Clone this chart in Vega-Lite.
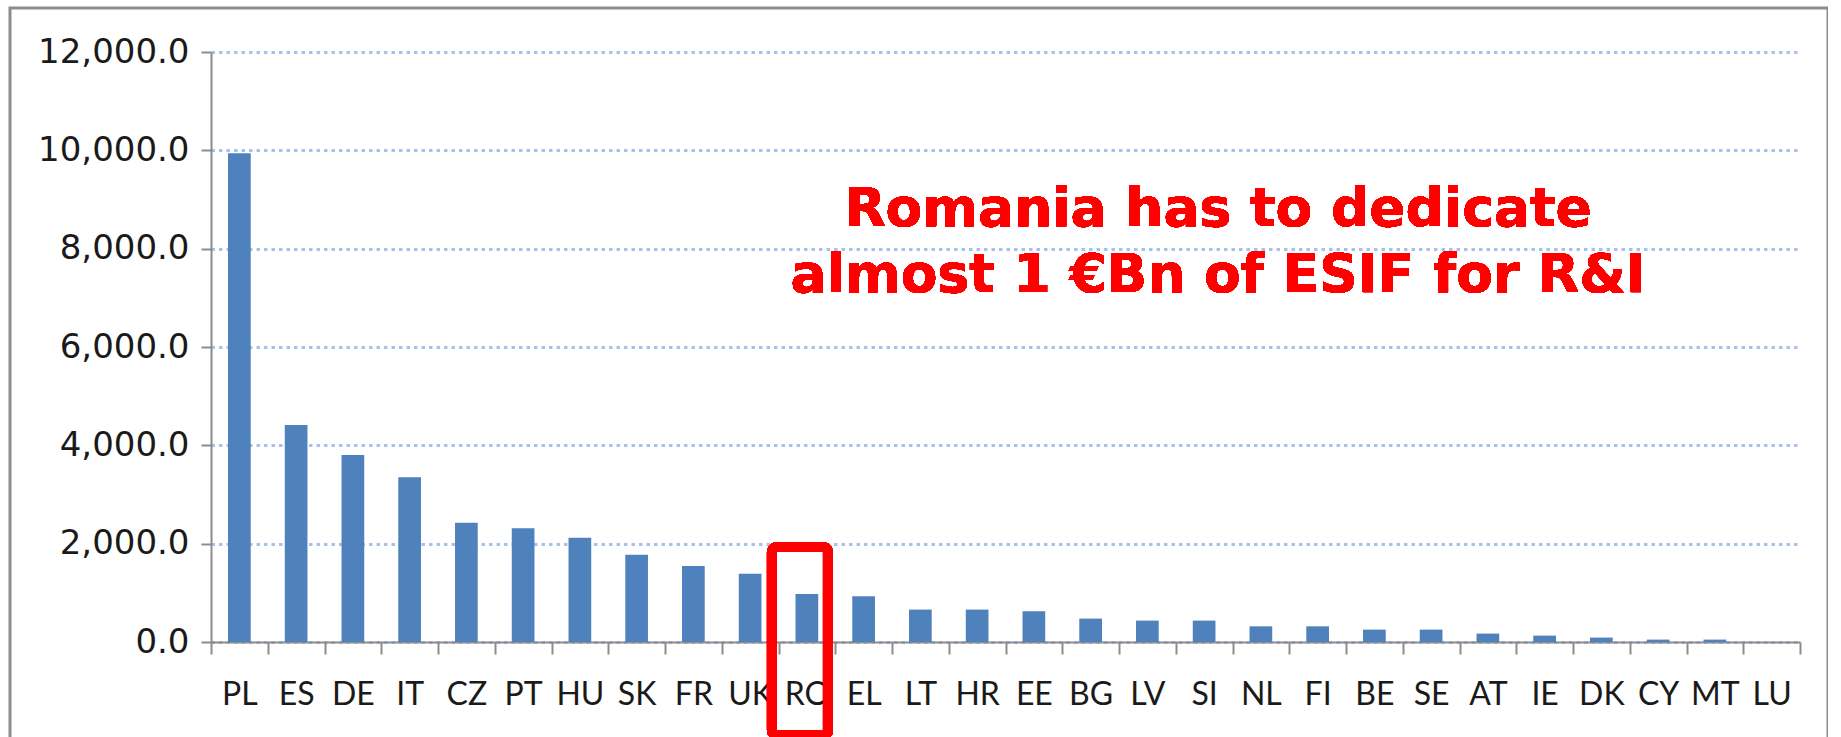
{
  "$schema": "https://vega.github.io/schema/vega-lite/v6.json",
  "width": 1818,
  "height": 760,
  "autosize": {"type": "none"},
  "padding": {"left": 10, "top": 8, "right": 0, "bottom": 0},
  "background": "white",
  "config": {"view": {"stroke": "#8c8c8c", "strokeWidth": 3}},
  "data": {
    "values": [
      {"country": "PL", "value": 9939},
      {"country": "ES", "value": 4413},
      {"country": "DE", "value": 3803},
      {"country": "IT", "value": 3350},
      {"country": "CZ", "value": 2427},
      {"country": "PT", "value": 2312},
      {"country": "HU", "value": 2122},
      {"country": "SK", "value": 1776},
      {"country": "FR", "value": 1546},
      {"country": "UK", "value": 1390},
      {"country": "RO", "value": 976},
      {"country": "EL", "value": 930},
      {"country": "LT", "value": 659},
      {"country": "HR", "value": 659},
      {"country": "EE", "value": 624},
      {"country": "BG", "value": 476},
      {"country": "LV", "value": 435},
      {"country": "SI", "value": 435},
      {"country": "NL", "value": 319},
      {"country": "FI", "value": 319},
      {"country": "BE", "value": 252},
      {"country": "SE", "value": 252},
      {"country": "AT", "value": 171},
      {"country": "IE", "value": 130},
      {"country": "DK", "value": 90},
      {"country": "CY", "value": 49},
      {"country": "MT", "value": 49},
      {"country": "LU", "value": 0}
    ]
  },
  "layer": [
    {
      "mark": {"type": "bar", "color": "#4F81BD", "width": {"band": 0.4}},
      "encoding": {
        "x": {
          "field": "country", "type": "nominal", "sort": null,
          "scale": {"range": [201, 1790], "paddingInner": 0, "paddingOuter": 0},
          "axis": {
            "title": null, "labelAngle": 0, "offset": -126, "tickBand": "extent",
            "domainColor": "#8c8c8c", "domainWidth": 2, "tickColor": "#8c8c8c", "tickWidth": 2, "tickSize": 12,
            "labelFont": "Lato", "labelFontSize": 32, "labelColor": "#1a1a1a", "labelPadding": 25,
            "labelOverlap": false, "grid": false
          }
        },
        "y": {
          "field": "value", "type": "quantitative",
          "scale": {"domain": [0, 12000], "range": [634, 44], "nice": false},
          "axis": {
            "title": null, "values": [0, 2000, 4000, 6000, 8000, 10000, 12000], "format": ",.1f", "offset": -201,
            "domainColor": "#8c8c8c", "domainWidth": 2, "tickColor": "#8c8c8c", "tickWidth": 2, "tickSize": 10,
            "labelFont": "DejaVu Sans", "labelFontSize": 34, "labelColor": "#1a1a1a", "labelPadding": 12,
            "grid": true, "gridColor": "#A9C1EA", "gridWidth": 3, "gridDash": [3.5, 4]
          }
        }
      }
    },
    {
      "mark": {"type": "rect", "filled": false, "stroke": "#FF0000", "strokeWidth": 10, "cornerRadius": 5, "clip": false},
      "encoding": {
        "x": {"datum": "RO", "bandPosition": -0.115},
        "x2": {"datum": "RO", "bandPosition": 0.872},
        "y": {"datum": 1932},
        "y2": {"datum": -1900}
      }
    },
    {
      "mark": {
        "type": "text", "text": ["Romania has to dedicate", "almost 1 €Bn of ESIF for R&I"],
        "font": "DejaVu Sans", "fontWeight": "bold", "fontSize": 53.5, "color": "#FF0000",
        "align": "center", "baseline": "middle", "lineHeight": 66, "dx": 14
      },
      "encoding": {
        "x": {"datum": "SI", "bandPosition": 0.5},
        "y": {"datum": 8780}
      }
    }
  ]
}
